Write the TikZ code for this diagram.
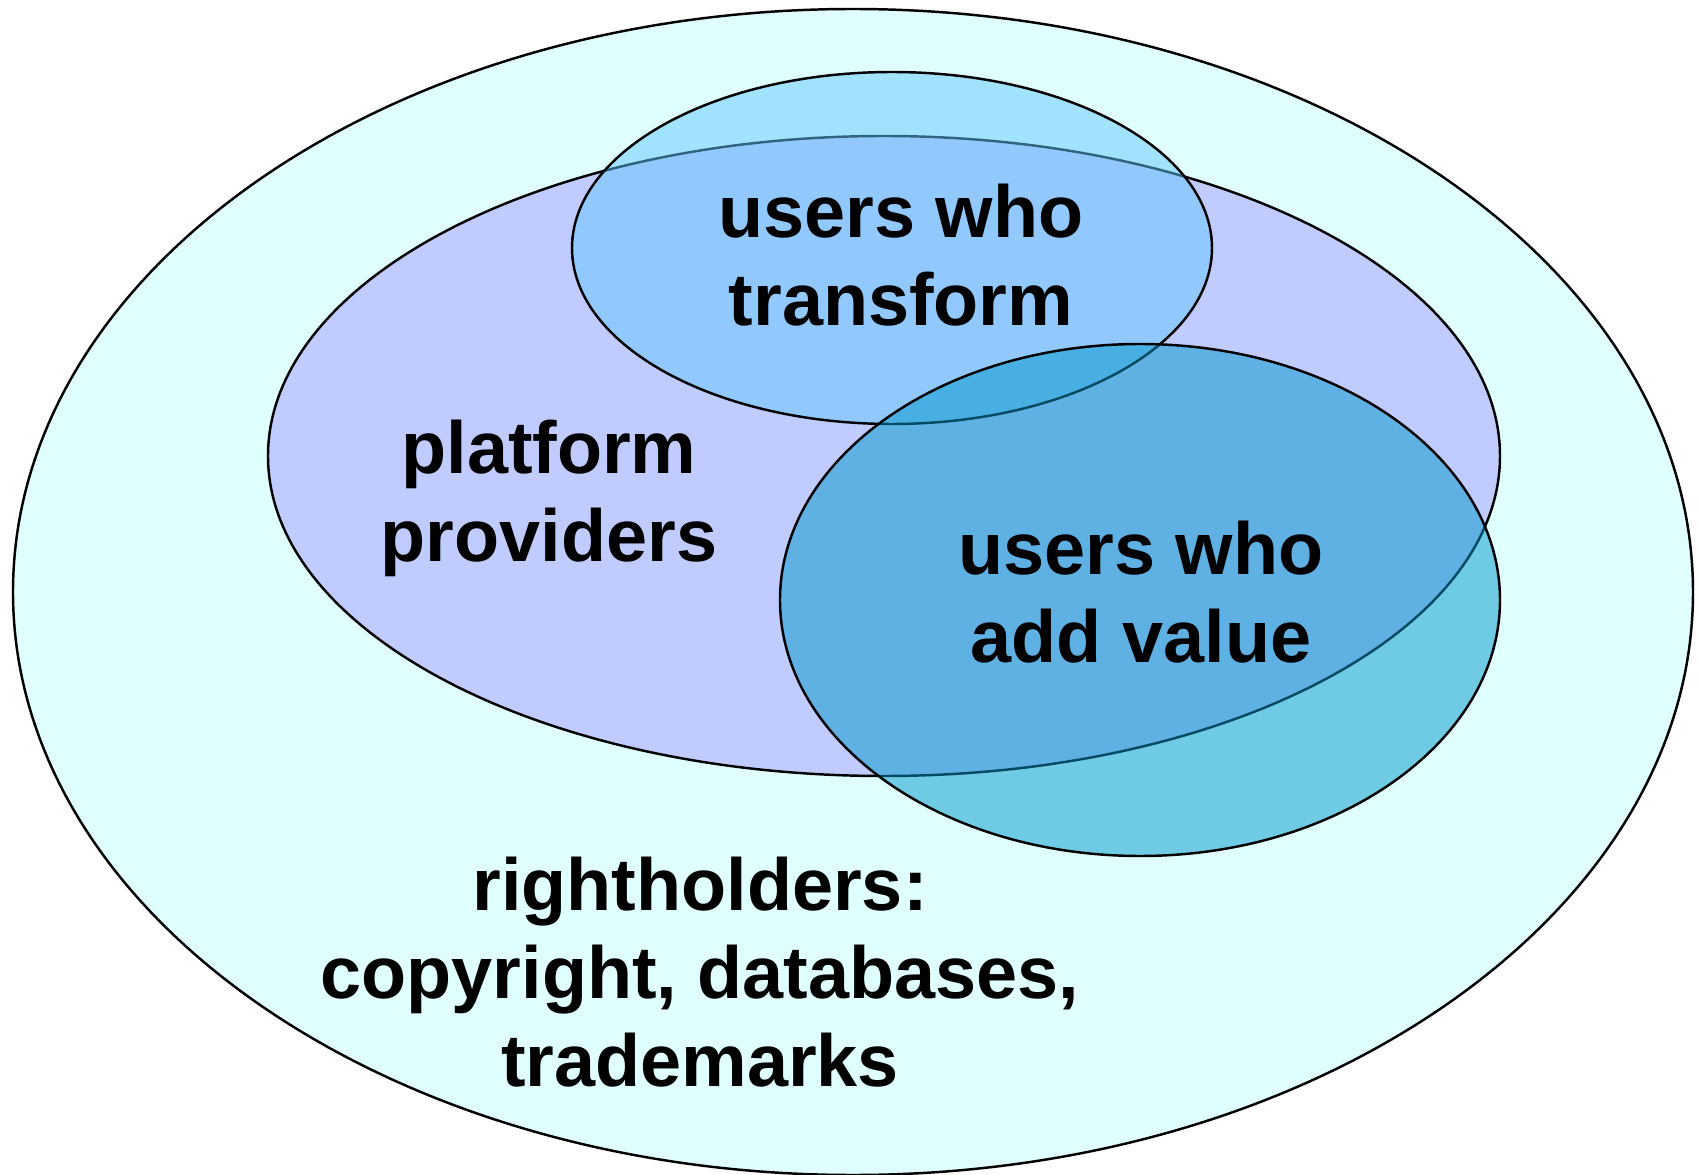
\documentclass[tikz,border=0pt]{standalone}
\usepackage{fontspec}
\setmainfont{Liberation Sans}
\definecolor{outerfill}{RGB}{224,255,255}
\definecolor{platfill}{RGB}{192,204,255}
\definecolor{transfill}{RGB}{100,200,255}
\definecolor{addfill}{RGB}{0,150,200}
\begin{document}
\begin{tikzpicture}[
    set/.style={draw=black, line width=0.7pt},
    txt/.style={align=center, font=\fontsize{21}{25}\selectfont\bfseries}]
        \useasboundingbox (0,0) rectangle (16.99,-11.75);
        \draw [set, fill=outerfill] (8.53,-5.92) ellipse (8.40 and 5.83);
        \draw [set, fill=platfill] (8.84,-4.56) ellipse (6.16 and 3.20);
        \draw [set, fill=transfill, fill opacity=0.5] (8.92,-2.48) ellipse (3.20 and 1.76);
        \draw [set, fill=addfill, fill opacity=0.5] (11.40,-6.00) ellipse (3.60 and 2.56);
        \node [txt] (transform) at (9.01,-2.55) {users who\\transform};
        \node [txt] (platform) at (5.49,-4.98) {platform\\providers};
        \node [txt] (addvalue) at (11.41,-5.92) {users who\\add value};
        \node [txt] (rights) at (7.00,-9.72) {rightholders:\\copyright, databases,\\trademarks};
    \end{tikzpicture}
\end{document}
